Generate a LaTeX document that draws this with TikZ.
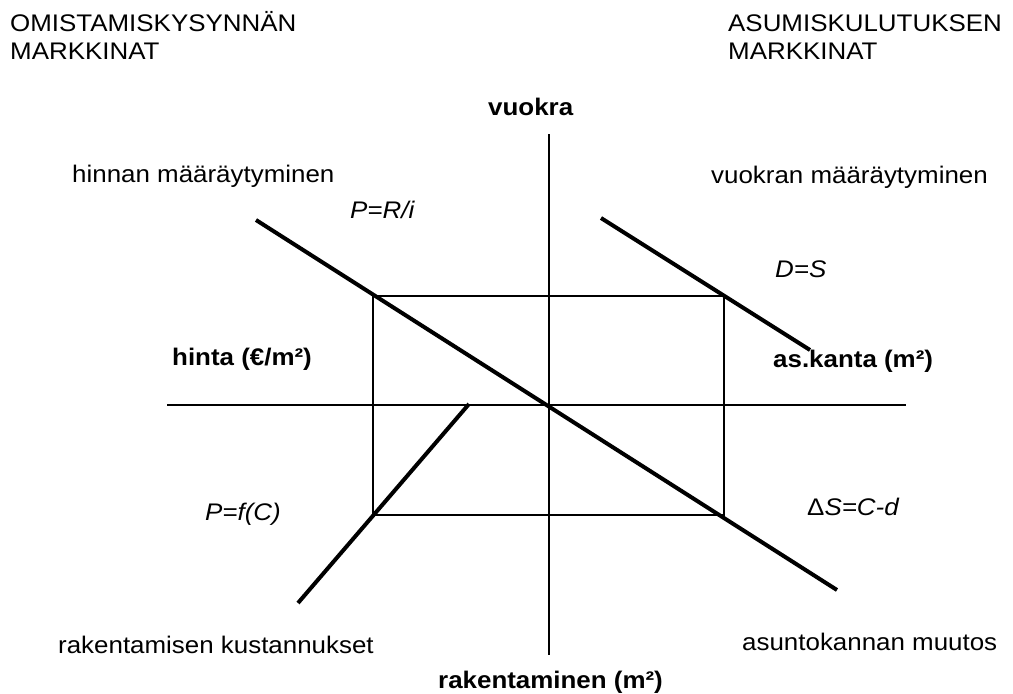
\documentclass[tikz,border=0pt]{standalone}
\usepackage{fontspec}
\setmainfont[FakeStretch=1.08]{Liberation Sans}
\begin{document}
\begin{tikzpicture}[x=1pt,y=-1pt,
  lbl/.style={anchor=base west,inner sep=0pt,font=\fontsize{24}{27}\selectfont},
  blbl/.style={lbl,font=\fontsize{24}{27}\selectfont\bfseries},
  ilbl/.style={lbl,font=\fontsize{24}{27}\selectfont\itshape},
  thin/.style={line width=1.4pt},
  thick/.style={line width=4pt}]
\useasboundingbox (0,0) rectangle (1013,694);
% axes
\coordinate (vtop) at (549,134);
\coordinate (vbot) at (549,655);
\coordinate (hl) at (167,405);
\coordinate (hr) at (906,405);
\draw[thin] (vtop) -- (vbot);
\draw[thin] (hl) -- (hr);
% rectangle
\coordinate (r1) at (373,296);
\coordinate (r2) at (724,515);
\draw[thin] (r1) rectangle (r2);
% thick lines
\coordinate (d1) at (256,220);
\coordinate (d2) at (837,590);
\coordinate (u1) at (601,218);
\coordinate (u2) at (810,350);
\coordinate (c1) at (298,603);
\coordinate (c2) at (469,404);
\draw[thick] (d1) -- (d2);
\draw[thick] (u1) -- (u2);
\draw[thick] (c1) -- (c2);
% texts
\node[lbl] (t1) at (10,31) {OMISTAMISKYSYNNÄN};
\node[lbl] (t2) at (10,59) {MARKKINAT};
\node[lbl] (t3) at (728,31) {ASUMISKULUTUKSEN};
\node[lbl] (t4) at (728,59) {MARKKINAT};
\node[blbl] (vuokra) at (488,115) {vuokra};
\node[lbl] (hm) at (72,182) {hinnan määräytyminen};
\node[lbl] (vm) at (711,183) {vuokran määräytyminen};
\node[ilbl] (pri) at (350,218) {P=R/i};
\node[ilbl] (ds) at (775,277) {D=S};
\node[blbl] (hinta) at (172,365) {hinta (€/m²)};
\node[blbl] (kanta) at (773,367) {as.kanta (m²)};
\node[ilbl] (pfc) at (205,520) {P=f(C)};
\node[lbl] (dsc) at (807,515) {Δ\itshape S=C-d};
\node[lbl] (rk) at (58,653) {rakentamisen kustannukset};
\node[lbl] (am) at (742,650) {asuntokannan muutos};
\node[blbl] (rak) at (438,688) {rakentaminen (m²)};
\end{tikzpicture}
\end{document}
